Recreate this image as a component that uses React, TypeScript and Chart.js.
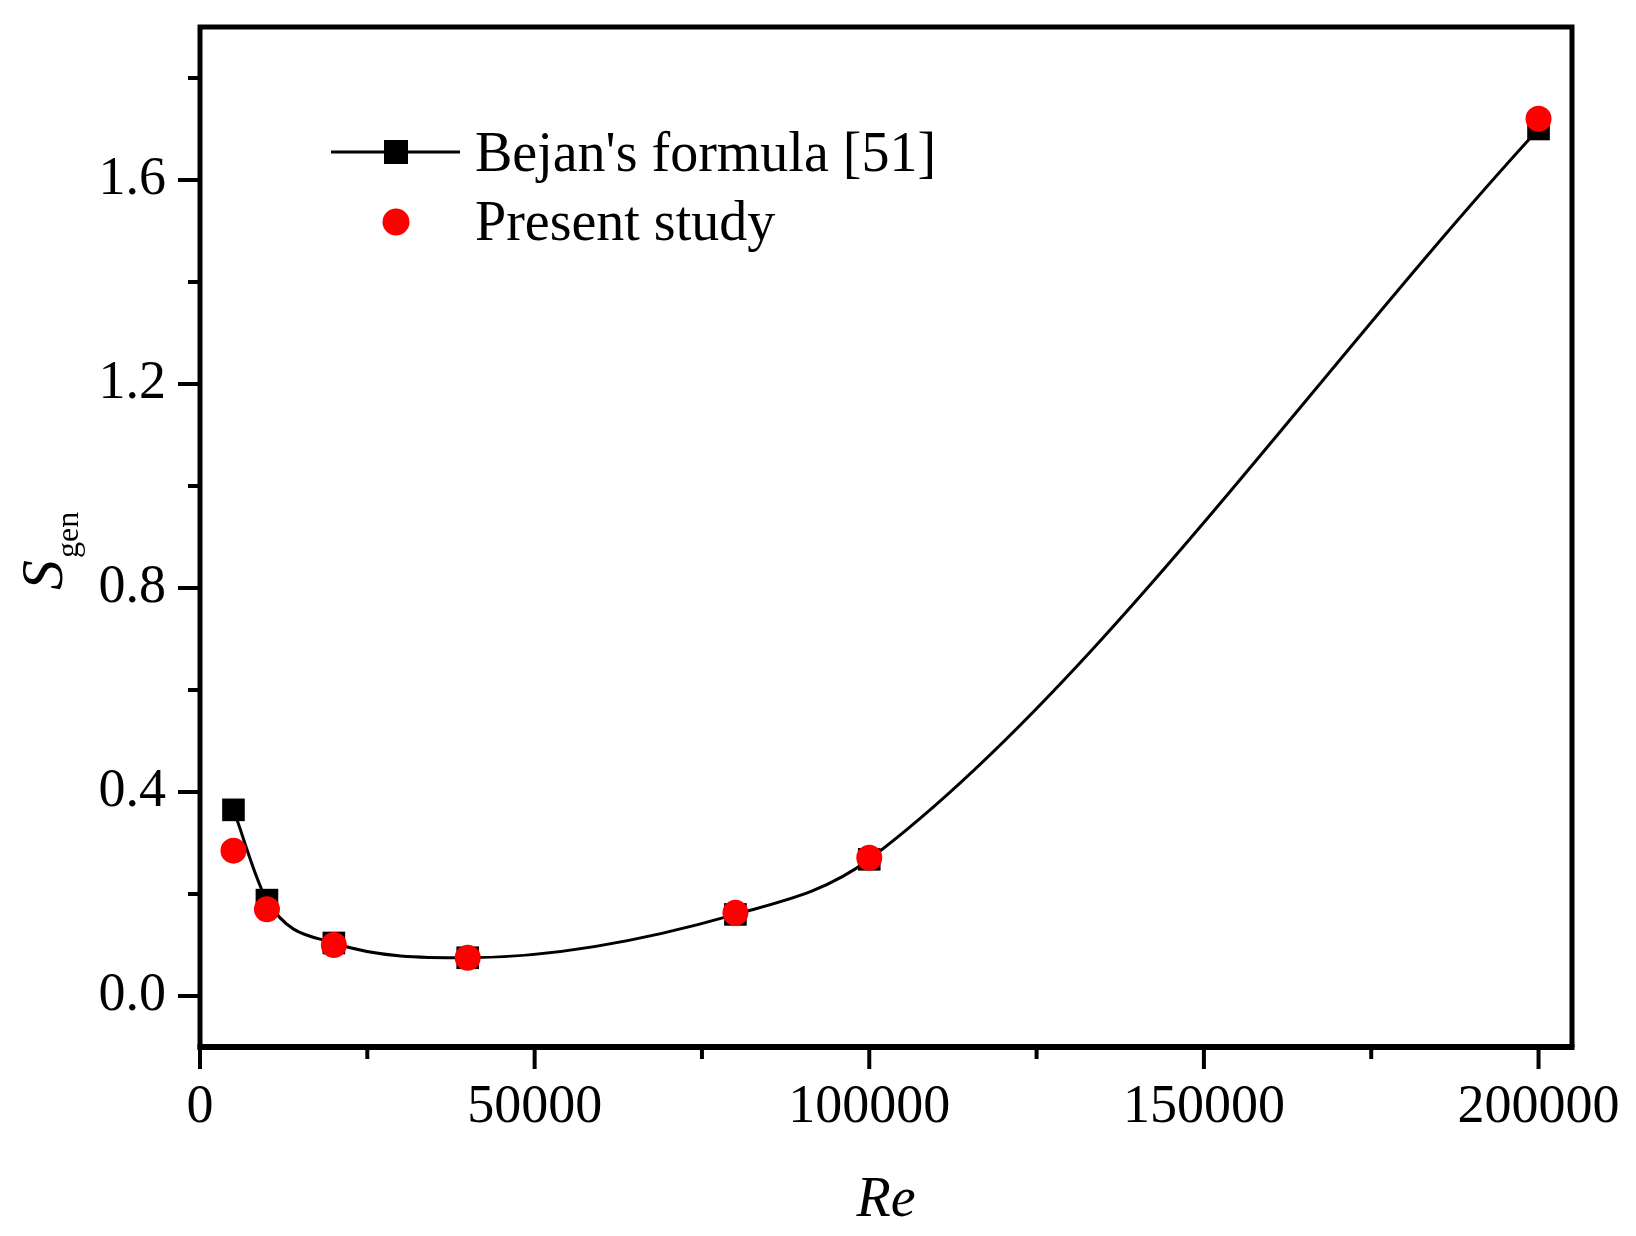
import { useEffect, useRef } from "react"
import { Chart, registerables, type Plugin } from "chart.js"

Chart.register(...registerables)

const FONT = "'Liberation Serif', 'Times New Roman', serif"

// Re values and S_gen
const reValues = [5000, 10000, 20000, 40000, 80000, 100000, 200000]
const bejanValues = [0.365, 0.188, 0.104, 0.075, 0.16, 0.268, 1.7]
const presentValues = [0.285, 0.17, 0.1, 0.075, 0.163, 0.271, 1.72]

const xMajorTicks = [0, 50000, 100000, 150000, 200000]
const xMinorTicks = [25000, 75000, 125000, 175000]
const yMajorTicks = [0, 0.4, 0.8, 1.2, 1.6]
const yMinorTicks = [0.2, 0.6, 1.0, 1.4, 1.8]

const legendLabels = ["Bejan's formula [51]", "Present study"]

const framePlugin: Plugin = {
  id: "frame",
  afterDraw(chart) {
    const { ctx, chartArea: a, scales } = chart
    const xs = scales.x
    const ys = scales.y
    ctx.save()
    ctx.strokeStyle = "#000"
    ctx.lineCap = "butt"

    // tick marks (outward)
    ctx.lineWidth = 4
    const tick = (x1: number, y1: number, x2: number, y2: number) => {
      ctx.beginPath()
      ctx.moveTo(x1, y1)
      ctx.lineTo(x2, y2)
      ctx.stroke()
    }
    xMajorTicks.forEach((v) => {
      const px = xs.getPixelForValue(v)
      tick(px, a.bottom, px, a.bottom + 22)
    })
    xMinorTicks.forEach((v) => {
      const px = xs.getPixelForValue(v)
      tick(px, a.bottom, px, a.bottom + 12)
    })
    yMajorTicks.forEach((v) => {
      const py = ys.getPixelForValue(v)
      tick(a.left, py, a.left - 22, py)
    })
    yMinorTicks.forEach((v) => {
      const py = ys.getPixelForValue(v)
      tick(a.left, py, a.left - 12, py)
    })

    // frame
    ctx.lineWidth = 5
    ctx.beginPath()
    ctx.moveTo(a.left, a.top)
    ctx.lineTo(a.right, a.top)
    ctx.lineTo(a.right, a.bottom)
    ctx.moveTo(a.left, a.bottom + 2.5)
    ctx.lineTo(a.left, a.top - 2.5)
    ctx.stroke()
    ctx.lineWidth = 6
    ctx.beginPath()
    ctx.moveTo(a.left - 2.5, a.bottom)
    ctx.lineTo(a.right + 2.5, a.bottom)
    ctx.stroke()

    // axis titles
    ctx.fillStyle = "#000"
    ctx.textAlign = "center"
    ctx.textBaseline = "alphabetic"
    ctx.font = `italic 56px ${FONT}`
    ctx.fillText("Re", (a.left + a.right) / 2, 1216)

    ctx.save()
    ctx.translate(62, 590)
    ctx.rotate(-Math.PI / 2)
    ctx.textAlign = "left"
    ctx.font = `italic 60px ${FONT}`
    ctx.fillText("S", 0, 0)
    const sw = ctx.measureText("S").width
    ctx.font = `32px ${FONT}`
    ctx.fillText("gen", sw + 2, 16)
    ctx.restore()

    // legend
    const lx = a.left + 196
    ctx.lineWidth = 3
    ctx.beginPath()
    ctx.moveTo(a.left + 131, 152)
    ctx.lineTo(a.left + 260, 152)
    ctx.stroke()
    ctx.fillRect(lx - 12, 152 - 12, 24, 24)
    ctx.fillStyle = "#ff0000"
    ctx.beginPath()
    ctx.arc(lx, 222, 13.5, 0, Math.PI * 2)
    ctx.fill()
    ctx.fillStyle = "#000"
    ctx.font = `56px ${FONT}`
    ctx.textAlign = "left"
    ctx.fillText(legendLabels[0], a.left + 275, 171)
    ctx.fillText(legendLabels[1], a.left + 275, 240)

    ctx.restore()
  },
}

function SgenChart() {
  const canvasRef = useRef<HTMLCanvasElement>(null)
  const chartRef = useRef<Chart | null>(null)

  useEffect(() => {
    if (!canvasRef.current) return
    if (chartRef.current) chartRef.current.destroy()
    const ctx = canvasRef.current.getContext("2d")
    if (!ctx) return

    chartRef.current = new Chart(ctx, {
      type: "scatter",
      data: {
        datasets: [
          {
            label: legendLabels[1],
            data: reValues.map((x, i) => ({ x, y: presentValues[i] })),
            showLine: false,
            pointStyle: "circle",
            pointRadius: 13,
            pointBackgroundColor: "#ff0000",
            pointBorderWidth: 0,
            order: 1,
          },
          {
            label: legendLabels[0],
            data: reValues.map((x, i) => ({ x, y: bejanValues[i] })),
            showLine: true,
            borderColor: "#000",
            borderWidth: 3,
            cubicInterpolationMode: "monotone",
            pointStyle: "rect",
            pointRadius: 16,
            pointBackgroundColor: "#000",
            pointBorderWidth: 0,
            order: 2,
          },
        ],
      },
      options: {
        responsive: false,
        animation: false,
        layout: { padding: { top: 27, right: 64, left: 0, bottom: 0 } },
        plugins: {
          legend: { display: false },
          tooltip: { enabled: false },
        },
        scales: {
          x: {
            type: "linear",
            min: 0,
            max: 205000,
            afterBuildTicks: (s) => {
              s.ticks = xMajorTicks.map((value) => ({ value }))
            },
            afterFit: (s) => {
              s.height = 189
              s.paddingLeft = 0
              s.paddingRight = 0
            },
            grid: { display: false, drawTicks: false },
            border: { display: false },
            ticks: {
              color: "#000",
              font: { family: FONT, size: 54 },
              padding: 28,
              maxRotation: 0,
              autoSkip: false,
              callback: (v) => String(v),
            },
          },
          y: {
            type: "linear",
            min: -0.1,
            max: 1.9,
            afterBuildTicks: (s) => {
              s.ticks = yMajorTicks.map((value) => ({ value }))
            },
            afterFit: (s) => {
              s.width = 200
              s.paddingTop = 0
              s.paddingBottom = 0
            },
            grid: { display: false, drawTicks: false },
            border: { display: false },
            ticks: {
              color: "#000",
              font: { family: FONT, size: 54 },
              padding: 34,
              autoSkip: false,
              callback: (v) => Number(v).toFixed(1),
            },
          },
        },
      },
      plugins: [framePlugin],
    })

    return () => {
      if (chartRef.current) {
        chartRef.current.destroy()
        chartRef.current = null
      }
    }
  }, [])

  return <canvas ref={canvasRef} width={1636} height={1236} />
}

export default function App() {
  useEffect(() => {
    document.body.style.margin = "0"
  }, [])
  return (
    <div style={{ width: 1636, height: 1236, background: "#fff" }}>
      <SgenChart />
    </div>
  )
}
